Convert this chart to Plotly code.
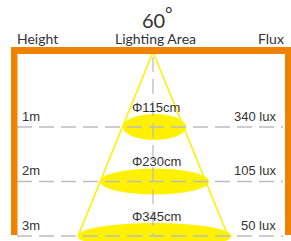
import plotly.graph_objects as go

# ---- data ----
heights_m = [1, 2, 3]
height_labels = ["1m", "2m", "3m"]
diameters_cm = [115, 230, 345]
diameter_labels = ["Φ115cm", "Φ230cm", "Φ345cm"]
lux_values = [340, 105, 50]
lux_labels = ["340 lux", "105 lux", "50 lux"]
beam_angle = 60
headers = ["Height", "Lighting Area", "Flux"]

# ---- layout constants ----
W, H = 291, 241
PX_PER_M = 54.5
Y0 = 1 - 127 / PX_PER_M          # y value (m) at top edge of figure
X_LEFT = -153                    # x value at left edge (x axis in px around cone axis)


def ym(px):
    return Y0 + px / PX_PER_M


ORANGE = "#EF8200"
YELLOW = "#FFF100"
GRAY = "#BDBDBD"
TXT = "#333333"
HEAD_FONT = "Lato"
LBL_FONT = "Liberation Sans, Arial"

APEX = ym(52)
BASE_HALF = 75
max_h = max(heights_m)


def half_width(h):
    return BASE_HALF * (h - APEX) / (max_h - APEX)


ELL_H = 26 / PX_PER_M

fig = go.Figure()

# cone
fig.add_trace(go.Scatter(
    x=[-half_width(max_h), 0, half_width(max_h)],
    y=[max_h, APEX, max_h],
    mode="lines", line=dict(color=YELLOW, width=1.6),
    hoverinfo="skip", showlegend=False))

shapes = []
# light spots
for h in heights_m:
    hw = half_width(h) * 1.02
    shapes.append(dict(type="circle", xref="x", yref="y", layer="below",
                       x0=-hw + 1, x1=hw + 2,
                       y0=h - ELL_H / 2, y1=h + ELL_H / 2,
                       fillcolor=YELLOW, line=dict(width=0)))

# dashed level lines
for h in heights_m:
    fig.add_trace(go.Scatter(
        x=[17 + X_LEFT, 283 + X_LEFT], y=[h, h], mode="lines",
        line=dict(color=GRAY, width=1.3, dash="15px,7px"),
        hoverinfo="skip", showlegend=False))
# vertical axis line
fig.add_trace(go.Scatter(
    x=[0, 0], y=[ym(57), max_h], mode="lines",
    line=dict(color=GRAY, width=1.3, dash="15px,7px"),
    hoverinfo="skip", showlegend=False))

# orange frame
shapes.append(dict(type="rect", xref="x", yref="y", layer="above",
                   x0=11 + X_LEFT, x1=17.5 + X_LEFT, y0=ym(47), y1=ym(235),
                   fillcolor=ORANGE, line=dict(width=0)))
shapes.append(dict(type="rect", xref="x", yref="y", layer="above",
                   x0=11 + X_LEFT, x1=292 + X_LEFT, y0=ym(47), y1=ym(54),
                   fillcolor=ORANGE, line=dict(width=0)))
shapes.append(dict(type="rect", xref="x", yref="y", layer="above",
                   x0=285 + X_LEFT, x1=292 + X_LEFT, y0=ym(47), y1=ym(235),
                   fillcolor=ORANGE, line=dict(width=0)))

ann = []
# title
ann.append(dict(x=0, y=ym(20), text=str(beam_angle), showarrow=False,
                xanchor="center", yanchor="middle", borderpad=0,
                font=dict(family=HEAD_FONT, size=20, color=TXT)))
ann.append(dict(x=168 + X_LEFT, y=ym(13), text="°", showarrow=False,
                xanchor="center", yanchor="middle", borderpad=0,
                font=dict(family=HEAD_FONT, size=18, color=TXT)))
# headers
ann.append(dict(x=16 + X_LEFT, y=ym(38.5), text=headers[0], showarrow=False,
                xanchor="left", yanchor="middle", borderpad=0,
                font=dict(family=HEAD_FONT, size=14, color=TXT)))
ann.append(dict(x=155 + X_LEFT, y=ym(38.5), text=headers[1], showarrow=False,
                xanchor="center", yanchor="middle", borderpad=0,
                font=dict(family=HEAD_FONT, size=14, color=TXT)))
ann.append(dict(x=285 + X_LEFT, y=ym(38.5), text=headers[2], showarrow=False,
                xanchor="right", yanchor="middle", borderpad=0,
                font=dict(family=HEAD_FONT, size=14, color=TXT)))

for h, hl, dl, ll in zip(heights_m, height_labels, diameter_labels, lux_labels):
    ann.append(dict(x=20 + X_LEFT, y=h - 11 / PX_PER_M, text=hl, showarrow=False,
                    xanchor="left", yanchor="middle",
                    font=dict(family=LBL_FONT, size=13, color=TXT)))
    ann.append(dict(x=278 + X_LEFT, y=h - 11 / PX_PER_M, text=ll, showarrow=False,
                    xanchor="right", yanchor="middle",
                    font=dict(family=LBL_FONT, size=13, color=TXT)))
    ann.append(dict(x=3, y=h - 20 / PX_PER_M, text=dl, showarrow=False,
                    xanchor="center", yanchor="middle",
                    font=dict(family=LBL_FONT, size=13, color=TXT)))

fig.update_layout(
    width=W, height=H, margin=dict(l=0, r=0, t=0, b=0),
    paper_bgcolor="white", plot_bgcolor="white",
    shapes=shapes, annotations=ann, showlegend=False,
    xaxis=dict(range=[X_LEFT, X_LEFT + W], visible=False, fixedrange=True),
    yaxis=dict(range=[ym(H), ym(0)], visible=False, fixedrange=True),
)

fig.write_html(
    "out.html",
    config={"displayModeBar": False},
    post_script="document.body.style.margin='0';document.body.style.padding='0';"
                "document.documentElement.style.overflow='hidden';",
)
